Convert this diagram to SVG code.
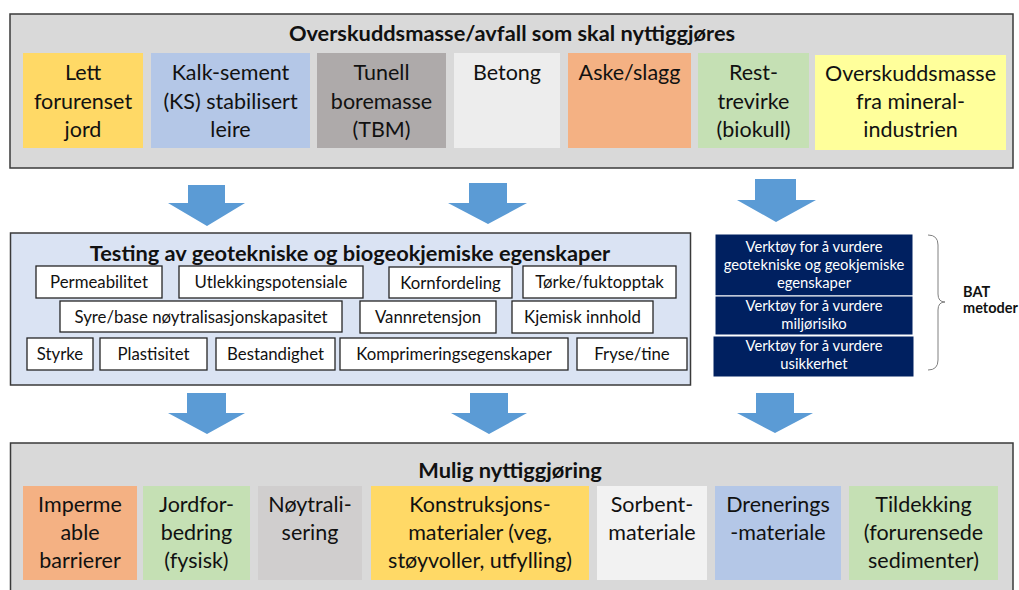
<svg xmlns="http://www.w3.org/2000/svg" width="1019" height="590" viewBox="0 0 1019 590">
<style>
.panel{stroke:#3a3a3a;stroke-width:1.5}
.t{font-family:Lato,"Liberation Sans",sans-serif;fill:#111;text-anchor:middle}
.big{font-size:21.5px}
.title{font-size:21.8px;font-weight:bold}
.sm{font-size:16.8px}
.box{fill:#fff;stroke:#262626;stroke-width:1.3}
.dark{fill:#002060;stroke:#fff;stroke-width:1}
.wt{font-family:Lato,"Liberation Sans",sans-serif;fill:#fff;text-anchor:middle;font-size:14.8px}
.bat{font-family:Lato,"Liberation Sans",sans-serif;font-size:14.5px;font-weight:bold;fill:#111}
.arrow{fill:#5b9bd5}
</style>
<rect width="1019" height="590" fill="#fff"/>

<g id="top-panel">
<rect class="panel" x="10" y="14" width="1003" height="154" fill="#d9d9d9"/>
<text class="t title" x="512" y="41">Overskuddsmasse/avfall som skal nyttiggjøres</text>
</g>
<g id="n-lett">
<rect x="23" y="53" width="120" height="95" fill="#ffd966"/>
<text class="t big" x="83" y="80">Lett</text><text class="t big" x="83" y="109">forurenset</text><text class="t big" x="83" y="137">jord</text>
</g>
<g id="n-kalk">
<rect x="151" y="53" width="159" height="95" fill="#b4c7e7"/>
<text class="t big" x="230.5" y="80">Kalk-sement</text><text class="t big" x="230.5" y="109">(KS) stabilisert</text><text class="t big" x="230.5" y="137">leire</text>
</g>
<g id="n-tunell">
<rect x="317" y="53" width="129" height="95" fill="#aeaaaa"/>
<text class="t big" x="381.5" y="80">Tunell</text><text class="t big" x="381.5" y="109">boremasse</text><text class="t big" x="381.5" y="137">(TBM)</text>
</g>
<g id="n-betong">
<rect x="454" y="53" width="106" height="95" fill="#ededed"/>
<text class="t big" x="507" y="80">Betong</text>
</g>
<g id="n-aske">
<rect x="568" y="53" width="123" height="95" fill="#f4b183"/>
<text class="t big" x="629.5" y="80">Aske/slagg</text>
</g>
<g id="n-rest">
<rect x="698" y="53" width="111" height="95" fill="#c5e0b4"/>
<text class="t big" x="753.5" y="80">Rest-</text><text class="t big" x="753.5" y="109">trevirke</text><text class="t big" x="753.5" y="137">(biokull)</text>
</g>
<g id="n-mineral">
<rect x="815" y="55" width="191" height="95" fill="#ffff9b"/>
<text class="t big" x="910.5" y="81">Overskuddsmasse</text><text class="t big" x="910.5" y="109">fra mineral-</text><text class="t big" x="910.5" y="137">industrien</text>
</g>

<g id="mid-panel">
<rect class="panel" x="10.5" y="233" width="680" height="152" fill="#dae3f3"/>
<text class="t title" x="350" y="261">Testing av geotekniske og biogeokjemiske egenskaper</text>
</g>
<g id="n-perm"><rect class="box" x="36" y="266" width="126" height="32"/><text class="t sm" x="99" y="288">Permeabilitet</text></g>
<g id="n-utlekk"><rect class="box" x="179" y="266" width="184" height="32"/><text class="t sm" x="271" y="288">Utlekkingspotensiale</text></g>
<g id="n-korn"><rect class="box" x="389" y="267" width="123" height="31"/><text class="t sm" x="450.5" y="289">Kornfordeling</text></g>
<g id="n-torke"><rect class="box" x="523" y="266" width="153" height="32"/><text class="t sm" x="599.5" y="288">Tørke/fuktopptak</text></g>
<g id="n-syre"><rect class="box" x="60" y="301" width="282" height="31"/><text class="t sm" x="201" y="323">Syre/base nøytralisasjonskapasitet</text></g>
<g id="n-vann"><rect class="box" x="360" y="301" width="136" height="32"/><text class="t sm" x="428" y="323">Vannretensjon</text></g>
<g id="n-kjem"><rect class="box" x="512" y="301" width="141" height="32"/><text class="t sm" x="582.5" y="323">Kjemisk innhold</text></g>
<g id="n-styrke"><rect class="box" x="27" y="338" width="66" height="32"/><text class="t sm" x="60" y="360">Styrke</text></g>
<g id="n-plast"><rect class="box" x="100" y="338" width="107" height="32"/><text class="t sm" x="153.5" y="360">Plastisitet</text></g>
<g id="n-best"><rect class="box" x="216" y="338" width="119" height="32"/><text class="t sm" x="275.5" y="360">Bestandighet</text></g>
<g id="n-kompr"><rect class="box" x="340" y="338" width="228" height="32"/><text class="t sm" x="454" y="360">Komprimeringsegenskaper</text></g>
<g id="n-fryse"><rect class="box" x="577" y="338" width="110" height="32"/><text class="t sm" x="632" y="360">Fryse/tine</text></g>

<g id="n-verktoy1"><rect class="dark" x="715" y="234" width="198" height="62"/>
<text class="wt" x="814" y="252">Verktøy for å vurdere</text><text class="wt" x="814" y="270">geotekniske og geokjemiske</text><text class="wt" x="814" y="288">egenskaper</text></g>
<g id="n-verktoy2"><rect class="dark" x="715" y="296" width="198" height="39"/>
<text class="wt" x="814" y="311">Verktøy for å vurdere</text><text class="wt" x="814" y="329">miljørisiko</text></g>
<g id="n-verktoy3"><rect class="dark" x="713" y="336" width="201" height="41"/>
<text class="wt" x="814" y="351">Verktøy for å vurdere</text><text class="wt" x="814" y="369">usikkerhet</text></g>
<g id="bat">
<path d="M928,235 Q938,235 938,245 V294 Q938,302 945,302 Q938,302 938,310 V360 Q938,370 928,370" fill="none" stroke="#808080" stroke-width="1"/>
<text class="bat" x="963" y="297">BAT</text>
<text class="bat" x="963" y="313">metoder</text>
</g>

<g id="bottom-panel">
<rect class="panel" x="10.5" y="443" width="1002.5" height="160" fill="#d9d9d9"/>
<text class="t title" x="510" y="478">Mulig nyttiggjøring</text>
</g>
<g id="n-imperm"><rect x="23" y="486" width="114" height="94" fill="#f4b183"/>
<text class="t big" x="80" y="512">Imperme</text><text class="t big" x="80" y="540">able</text><text class="t big" x="80" y="568">barrierer</text></g>
<g id="n-jord"><rect x="143" y="486" width="107" height="94" fill="#c5e0b4"/>
<text class="t big" x="196.5" y="512">Jordfor-</text><text class="t big" x="196.5" y="540">bedring</text><text class="t big" x="196.5" y="568">(fysisk)</text></g>
<g id="n-noyt"><rect x="258" y="486" width="104" height="94" fill="#d0cece"/>
<text class="t big" x="310" y="512">Nøytrali-</text><text class="t big" x="310" y="540">sering</text></g>
<g id="n-konstr"><rect x="371" y="486" width="218" height="94" fill="#ffd966"/>
<text class="t big" x="480" y="512">Konstruksjons-</text><text class="t big" x="480" y="540">materialer (veg,</text><text class="t big" x="480" y="568">støyvoller, utfylling)</text></g>
<g id="n-sorbent"><rect x="597" y="486" width="110" height="94" fill="#f2f2f2"/>
<text class="t big" x="652" y="512">Sorbent-</text><text class="t big" x="652" y="540">materiale</text></g>
<g id="n-dren"><rect x="715" y="486" width="126" height="94" fill="#b4c7e7"/>
<text class="t big" x="778" y="512">Drenerings</text><text class="t big" x="778" y="540">-materiale</text></g>
<g id="n-tildekk"><rect x="849" y="486" width="149" height="94" fill="#c5e0b4"/>
<text class="t big" x="923.5" y="512">Tildekking</text><text class="t big" x="923.5" y="540">(forurensede</text><text class="t big" x="923.5" y="568">sedimenter)</text></g>

<g id="connectors">
<polygon class="arrow" points="188,185 225,185 225,203 245,203 207,226 168,203 188,203"/>
<polygon class="arrow" points="469,183 507,183 507,203 527,203 488,224 448,203 469,203"/>
<polygon class="arrow" points="755,179 796,179 796,200 816,200 776,222 737,200 755,200"/>
<polygon class="arrow" points="187,393 226,393 226,413 245,413 207,434 168,413 187,413"/>
<polygon class="arrow" points="470,393 508,393 508,413 527,413 489,434 451,413 470,413"/>
<polygon class="arrow" points="756,393 794,393 794,413 813,413 775,433 737,413 756,413"/>
</g>
</svg>
